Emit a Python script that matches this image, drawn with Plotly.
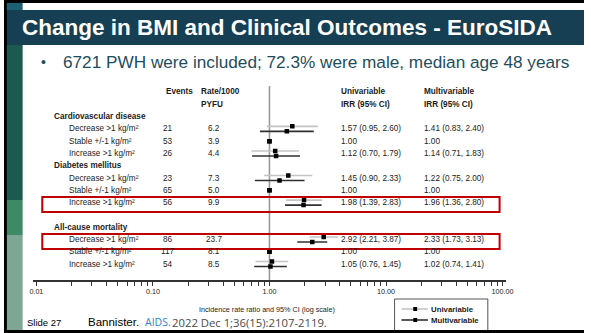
import plotly.graph_objects as go

W, H = 591, 333

# ---- data ---------------------------------------------------------------
groups = ["Cardiovascular disease", "Diabetes mellitus", "All-cause mortality"]
bmi_change = ["Decrease >1 kg/m²", "Stable +/-1 kg/m²", "Increase >1 kg/m²"]
events = [[21, 53, 26], [23, 65, 56], [86, 117, 54]]
rates = [["6.2", "3.9", "4.4"], ["7.3", "5.0", "9.9"], ["23.7", "8.1", "8.5"]]

uni_irr = [[1.57, 1.00, 1.12], [1.45, 1.00, 1.98], [2.92, 1.00, 1.05]]
uni_lo = [[0.95, None, 0.70], [0.90, None, 1.39], [2.21, None, 0.76]]
uni_hi = [[2.60, None, 1.79], [2.33, None, 2.83], [3.87, None, 1.45]]

multi_irr = [[1.41, 1.00, 1.14], [1.22, 1.00, 1.96], [2.33, 1.00, 1.02]]
multi_lo = [[0.83, None, 0.71], [0.75, None, 1.36], [1.73, None, 0.74]]
multi_hi = [[2.40, None, 1.83], [2.00, None, 2.80], [3.13, None, 1.41]]

highlighted = [(1, 2), (2, 0)]  # (group, row) boxed in red

tick_major = [0.01, 0.1, 1, 10, 100]
tick_labels = ["0.01", "0.10", "1.00", "10.00", "100.00"]

# ---- helpers -------------------------------------------------------------
ARIAL = "Arial, Liberation Sans, sans-serif"
TXT = "#1c1c1c"
PAD = 4  # annotation boxes add a few px before the first glyph


def px(x):
    return x / W


def py(y):
    return 1 - y / H


# table rows: slot 0/1 are the column headers
ROW0, STEP = 92.0, 12.29
slot = 2
title_slot, row_slot = [], []
for g in range(len(groups)):
    if g == 2:
        slot += 1  # blank line before the mortality block
    title_slot.append(slot)
    slot += 1
    row_slot.append([slot, slot + 1, slot + 2])
    slot += 3


def row_px(s):
    return ROW0 + STEP * s


PLOT_TOP, PLOT_BOTTOM = 84.0, 280.0
y_range = [(PLOT_BOTTOM - ROW0) / STEP, (PLOT_TOP - ROW0) / STEP]

# log x axis: 0.01 -> 33 px, 100 -> 508 px
DEC = (508 - 33) / 4.0
AX_L, AX_R = 30, 512
x_range = [-2 - (33 - AX_L) / DEC, 2 + (AX_R - 508) / DEC]

tick_vals, tick_text = [], []
for d, lab in zip(tick_major, tick_labels):
    tick_vals.append(d)
    tick_text.append(lab)
    if d < 100:
        for m in range(2, 10):
            tick_vals.append(d * m)
            tick_text.append("")

fig = go.Figure()

# ---- CI lines and point estimates ----------------------------------------
OFF = 2.5 / STEP
series = [
    ("Univariable", uni_irr, uni_lo, uni_hi, -OFF, "#c4c4c4"),
    ("Multivariable", multi_irr, multi_lo, multi_hi, OFF, "#303030"),
]
for name, est, lo, hi, off, col in series:
    lx, ly = [], []
    for g in range(3):
        for r in range(3):
            if lo[g][r] is None:
                continue
            s = row_slot[g][r] + off
            lx += [lo[g][r], hi[g][r], None]
            ly += [s, s, None]
    fig.add_trace(go.Scatter(x=lx, y=ly, mode="lines", showlegend=False,
                             line=dict(color=col, width=1.6), hoverinfo="skip"))

for name, est, lo, hi, off, col in series:
    mx, my = [], []
    for g in range(3):
        for r in range(3):
            s = row_slot[g][r] + (off if lo[g][r] is not None else 0)
            mx.append(est[g][r])
            my.append(s)
    fig.add_trace(go.Scatter(x=mx, y=my, mode="markers", name=name, showlegend=False,
                             marker=dict(symbol="square", size=4.5, color="black",
                                         line=dict(width=0))))

shapes = []
ann = []


# ---- slide frame -----------------------------------------------------------
def rect(x0, y0, x1, y1, color):
    shapes.append(dict(type="rect", xref="paper", yref="paper",
                       x0=px(x0), x1=px(x1), y0=py(y1), y1=py(y0),
                       fillcolor=color, line=dict(width=0), layer="below"))


rect(0, 10, W, 45, "#163f54")           # title band
rect(3, 3, 19, 10, "#1d5f73")           # small corner block
rect(3, 45, 19, 200, "#1b5a4e")         # side stripes
rect(3, 200, 19, 235, "#3f8a64")
rect(3, 235, 19, 330, "#7da694")
rect(0, 0, W, 3, "black")               # dark frame
rect(0, 0, 3, H, "black")


def paper_txt(text, x, y, size, color, family=ARIAL, anchor="left"):
    ann.append(dict(text=text, x=px(x - PAD if anchor == "left" else x), y=py(y),
                    xref="paper", yref="paper", xanchor=anchor, yanchor="middle",
                    showarrow=False, font=dict(family=family, size=size, color=color)))


paper_txt("<b>Change in BMI and Clinical Outcomes - EuroSIDA</b>", 20, 28, 22.5, "white")
paper_txt("•", 40, 62, 14, "#1e4d5e")
paper_txt("6721 PWH were included; 72.3% were male, median age 48 years", 62, 62, 17.2,
          "#1e4d5e")


# ---- table text -------------------------------------------------------------
def txt(text, x, s, size=8.2, bold=False, anchor="left", color=TXT):
    ann.append(dict(text=f"<b>{text}</b>" if bold else text,
                    x=px(x - PAD if anchor == "left" else x), y=s,
                    xref="paper", yref="y", xanchor=anchor, yanchor="middle",
                    showarrow=False, font=dict(family=ARIAL, size=size, color=color)))


COL_EVT, COL_RATE, COL_UNI, COL_MULTI = 167, 214, 345, 430
txt("Events", 167, 0, bold=True)
txt("Rate/1000", 203, 0, bold=True)
txt("PYFU", 203, 1, bold=True)
txt("Univariable", COL_UNI, 0, bold=True)
txt("IRR (95% CI)", COL_UNI, 1, bold=True)
txt("Multivariable", COL_MULTI, 0, bold=True)
txt("IRR (95% CI)", COL_MULTI, 1, bold=True)


def irr_text(e, lo, hi):
    return f"{e:.2f}" if lo is None else f"{e:.2f} ({lo:.2f}, {hi:.2f})"


for g in range(3):
    txt(groups[g], 53, title_slot[g], bold=True)
    for r in range(3):
        s = row_slot[g][r]
        txt(bmi_change[r], 68, s)
        txt(str(events[g][r]), COL_EVT, s, anchor="center")
        txt(rates[g][r], COL_RATE, s, anchor="center")
        txt(irr_text(uni_irr[g][r], uni_lo[g][r], uni_hi[g][r]), COL_UNI, s)
        txt(irr_text(multi_irr[g][r], multi_lo[g][r], multi_hi[g][r]), COL_MULTI, s)

# red highlight boxes
for g, r in highlighted:
    c = row_px(row_slot[g][r]) + 2
    shapes.append(dict(type="rect", xref="paper", yref="paper",
                       x0=px(39), x1=px(505), y0=py(c + 7.5), y1=py(c - 7.5),
                       line=dict(color="#c00000", width=2), fillcolor="rgba(0,0,0,0)"))

# reference line at IRR = 1
shapes.append(dict(type="line", xref="x", yref="paper", x0=1, x1=1,
                   y0=py(PLOT_BOTTOM), y1=py(86), line=dict(color="#9a9a9a", width=1.6),
                   layer="below"))

# axis title
paper_txt("Incidence rate ratio and 95% CI (log scale)", 268, 309, 7.2, TXT,
          anchor="center")

# ---- legend box ----------------------------------------------------------------
shapes.append(dict(type="rect", xref="paper", yref="paper", x0=px(398), x1=px(493),
                   y0=py(336), y1=py(299), line=dict(color="#555", width=1),
                   fillcolor="white"))
for name, _, _, _, _, col in series:
    ly = 309 if name == "Univariable" else 320
    shapes.append(dict(type="line", xref="paper", yref="paper", x0=px(405), x1=px(432),
                       y0=py(ly), y1=py(ly), line=dict(color=col, width=1.6)))
    shapes.append(dict(type="rect", xref="paper", yref="paper", x0=px(417), x1=px(421),
                       y0=py(ly + 2), y1=py(ly - 2), line=dict(width=0),
                       fillcolor="black"))
    paper_txt(f"<b>{name}</b>", 437, ly, 7.8, TXT)

# bottom frame edge drawn over the legend box
shapes.append(dict(type="rect", xref="paper", yref="paper", x0=0, x1=1,
                   y0=0, y1=py(330), fillcolor="black", line=dict(width=0)))

# ---- footer ------------------------------------------------------------------
FOOT_Y = 322
paper_txt("Slide 27", 25, FOOT_Y, 9.5, "black")
paper_txt("Bannister.", 88, FOOT_Y, 11.5, "black")
paper_txt("AIDS.", 146, FOOT_Y, 10.5, "#2a84d2", family="Open Sans, sans-serif")
paper_txt("2022 Dec 1;36(15):2107-2119.", 173, FOOT_Y, 11.3, "#4a4a4a",
          family="Open Sans, sans-serif")

fig.update_layout(
    width=W, height=H, margin=dict(l=0, r=0, t=0, b=0),
    paper_bgcolor="white", plot_bgcolor="rgba(0,0,0,0)",
    showlegend=False, shapes=shapes, annotations=ann,
    xaxis=dict(type="log", range=x_range, domain=[px(AX_L), px(AX_R)],
               tickvals=tick_vals, ticktext=tick_text, ticks="outside", ticklen=4,
               tickwidth=1, tickcolor="#333", showline=True, linecolor="#333",
               linewidth=1.6, showgrid=False, zeroline=False,
               tickfont=dict(family=ARIAL, size=7.2, color=TXT), fixedrange=True),
    yaxis=dict(range=y_range, domain=[py(PLOT_BOTTOM), py(PLOT_TOP)], visible=False,
               fixedrange=True),
)

fig.write_html("out.html")
